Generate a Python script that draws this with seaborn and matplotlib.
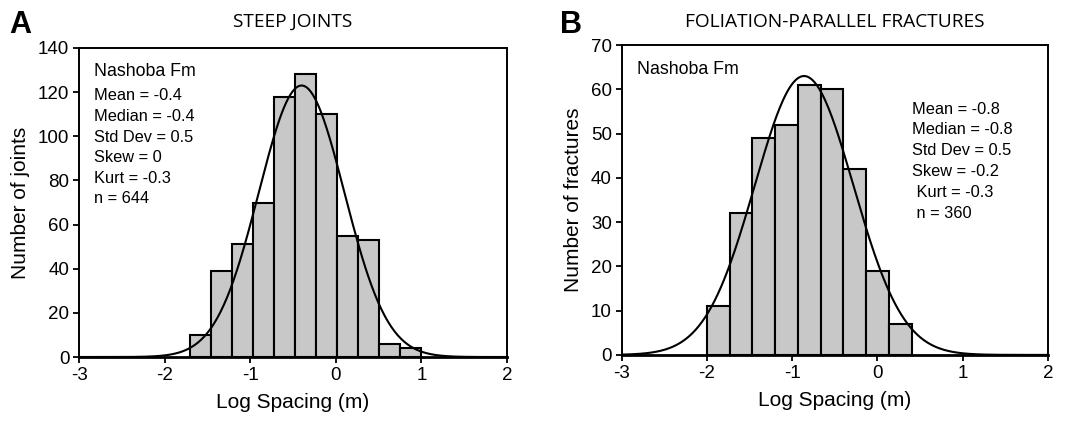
import numpy as np
import pandas as pd
import seaborn as sns
import matplotlib.pyplot as plt

# panel A - steep joints
a_counts = [10, 39, 51, 70, 118, 128, 110, 55, 53, 6, 4]
a_start, a_width = -1.70, 0.245
a_fit = dict(mu=-0.40, sd=0.50, peak=123)
a_stats = ["Mean = -0.4", "Median = -0.4", "Std Dev = 0.5", "Skew = 0", "Kurt = -0.3", "n = 644"]

# panel B - foliation-parallel fractures
b_counts = [11, 32, 49, 52, 61, 60, 42, 19, 7]
b_start, b_width = -2.00, 0.267
b_fit = dict(mu=-0.86, sd=0.58, peak=63)
b_stats = ["Mean = -0.8", "Median = -0.8", "Std Dev = 0.5", "Skew = -0.2", " Kurt = -0.3", " n = 360"]

sns.set_style("ticks", {"text.color": "black", "axes.labelcolor": "black",
                        "xtick.color": "black", "ytick.color": "black"})
plt.rcParams['font.family'] = ['Liberation Sans', 'DejaVu Sans']
plt.rcParams['axes.unicode_minus'] = False

fig = plt.figure(figsize=(10.71, 4.21), dpi=100)
axA = fig.add_axes([0.0738, 0.152, 0.3996, 0.734])
axB = fig.add_axes([0.5805, 0.157, 0.3978, 0.736])


def panel(ax, counts, start, width, fit, ymax, ystep, ylabel):
    edges = [start + width * i for i in range(len(counts) + 1)]
    centers = [(edges[i] + edges[i + 1]) / 2 for i in range(len(counts))]
    df = pd.DataFrame({"x": centers, "w": counts})
    sns.histplot(data=df, x="x", weights="w", bins=edges, ax=ax,
                 color="#c8c8c8", edgecolor="black", linewidth=1.5, alpha=1)
    xs = np.linspace(-3, 2, 400)
    ys = fit["peak"] * np.exp(-(xs - fit["mu"]) ** 2 / (2 * fit["sd"] ** 2))
    sns.lineplot(x=xs, y=ys, ax=ax, color="black", linewidth=1.5)
    ax.set_xlim(-3, 2)
    ax.set_ylim(0, ymax)
    ax.set_xticks(range(-3, 3))
    ax.set_yticks(range(0, ymax + 1, ystep))
    ax.tick_params(labelsize=13.5, length=4, width=1.3, color="black", pad=3)
    ax.set_xlabel("Log Spacing (m)", fontsize=15, labelpad=7)
    ax.set_ylabel(ylabel, fontsize=15, labelpad=6)
    for s in ax.spines.values():
        s.set_visible(True)
        s.set_linewidth(1.4)
        s.set_color("black")
    ax.spines["bottom"].set_linewidth(2)


panel(axA, a_counts, a_start, a_width, a_fit, 140, 20, "Number of joints")
panel(axB, b_counts, b_start, b_width, b_fit, 70, 10, "Number of fractures")

# annotations (figure pixel coords -> fractions)
W, H = 1071, 421
fig.text(94 / W, 1 - 72 / H, "Nashoba Fm", fontsize=12.8, va="center")
for i, s in enumerate(a_stats):
    fig.text(94 / W, 1 - (96 + 20.5 * i) / H, s, fontsize=11.8, va="center")

fig.text(637 / W, 1 - 70 / H, "Nashoba Fm", fontsize=12.8, va="center")
for i, s in enumerate(b_stats):
    fig.text(912 / W, 1 - (109 + 20.8 * i) / H, s, fontsize=11.8, va="center")

fig.text(9 / W, 1 - 25 / H, "A", fontsize=22, fontweight="bold", va="center")
fig.text(560 / W, 1 - 25 / H, "B", fontsize=22, fontweight="bold", va="center")
fig.text(293 / W, 1 - 22 / H, "STEEP JOINTS", fontsize=13.8, ha="center", va="center",
         family=["Open Sans"])
fig.text(835 / W, 1 - 22 / H, "FOLIATION-PARALLEL FRACTURES", fontsize=13.8,
         ha="center", va="center", family=["Open Sans"])

fig.savefig("out.png", dpi=100)
